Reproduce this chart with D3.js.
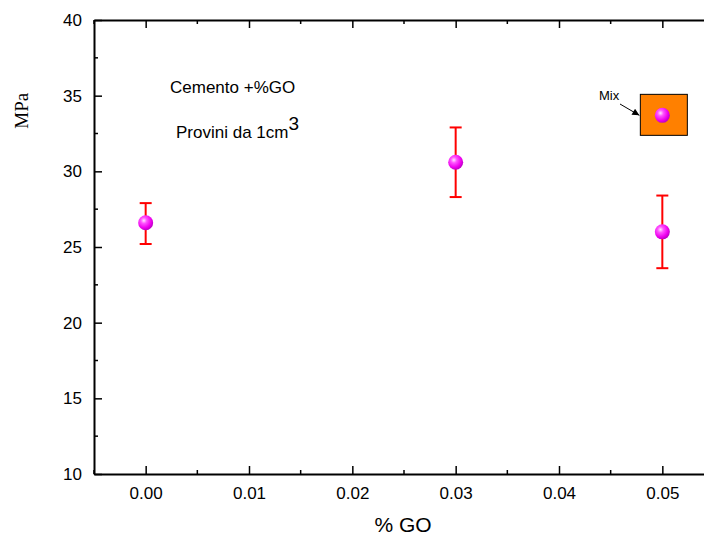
<!DOCTYPE html>
<html>
<head>
<meta charset="utf-8">
<script src="https://cdn.jsdelivr.net/npm/d3@7"></script>
<style>
  body { margin: 0; background: #fff; }
  svg { display: block; }
</style>
</head>
<body>
<div id="chart"></div>
<script>
// data
const goPercent = [0.00, 0.03, 0.05];
const strength = [26.6, 30.6, 26.0];
const errLow = [25.2, 28.3, 23.6];
const errHigh = [27.9, 32.9, 28.4];
const mixPoint = [0.05, 33.7];
const xTicks = [0.00, 0.01, 0.02, 0.03, 0.04, 0.05];
const yTicks = [10, 15, 20, 25, 30, 35, 40];

const width = 704, height = 537;
const margin = { top: 20, right: -10, bottom: 63, left: 94 };

const svg = d3.select('#chart')
   .append('svg')
   .attr('width', width)
   .attr('height', height);

const x = d3.scaleLinear().domain([-0.005, 0.055])
   .range([margin.left, width - margin.right]);
const y = d3.scaleLinear().domain([10, 40])
   .range([height - margin.bottom, margin.top]);

const defs = svg.append('defs');
const grad = defs.append('radialGradient')
   .attr('id', 'ball')
   .attr('cx', '38%').attr('cy', '35%').attr('r', '65%');
grad.append('stop').attr('offset', '0%').attr('stop-color', '#ffe6ff');
grad.append('stop').attr('offset', '30%').attr('stop-color', '#ff55ff');
grad.append('stop').attr('offset', '75%').attr('stop-color', '#ee00ee');
grad.append('stop').attr('offset', '100%').attr('stop-color', '#c000c8');

defs.append('marker')
   .attr('id', 'arrow')
   .attr('viewBox', '0 0 10 10')
   .attr('refX', 10).attr('refY', 5)
   .attr('markerWidth', 9).attr('markerHeight', 7)
   .attr('markerUnits', 'userSpaceOnUse')
   .attr('orient', 'auto')
   .append('path')
   .attr('d', 'M0,0L10,5L0,10z')
   .attr('fill', '#000');

const font = 'Liberation Sans, Arial, sans-serif';
const x0 = margin.left, y0 = height - margin.bottom;
const yTop = margin.top;

// minor ticks
const xMinor = d3.range(-0.005, 0.0551, 0.005).filter(v => !xTicks.some(t => Math.abs(t - v) < 1e-9));
const yMinor = [12.5, 17.5, 22.5, 27.5, 32.5, 37.5];

// bottom axis, ticks inward
const bottomAxis = svg.append('g').attr('transform', `translate(0,${y0})`)
   .call(d3.axisBottom(x).tickValues(xTicks).tickSizeInner(-8).tickSizeOuter(0)
      .tickFormat(d3.format('.2f')).tickPadding(13));
bottomAxis.select('.domain').attr('stroke-width', 2);
bottomAxis.selectAll('.tick line').attr('stroke-width', 1.5);
bottomAxis.selectAll('text').attr('font-family', font).attr('font-size', 17).attr('fill', '#000');

// top axis, no labels
const topAxis = svg.append('g').attr('transform', `translate(0,${yTop})`)
   .call(d3.axisTop(x).tickValues(xTicks).tickSizeInner(-8).tickSizeOuter(0).tickFormat(''));
topAxis.select('.domain').attr('stroke-width', 2);
topAxis.selectAll('.tick line').attr('stroke-width', 1.5);

// left axis
const leftAxis = svg.append('g').attr('transform', `translate(${x0},0)`)
   .call(d3.axisLeft(y).tickValues(yTicks).tickSizeInner(-8).tickSizeOuter(0).tickPadding(12));
leftAxis.select('.domain').attr('stroke-width', 2);
leftAxis.selectAll('.tick line').attr('stroke-width', 1.5);
leftAxis.selectAll('text').attr('font-family', font).attr('font-size', 17).attr('fill', '#000');

const minor = svg.append('g').attr('stroke', '#000').attr('stroke-width', 1.5);
minor.selectAll('.xminb').data(xMinor).join('line').attr('class', 'xminb')
   .attr('x1', d => x(d)).attr('x2', d => x(d))
   .attr('y1', y0).attr('y2', y0 - 4);
minor.selectAll('.xmint').data(xMinor).join('line').attr('class', 'xmint')
   .attr('x1', d => x(d)).attr('x2', d => x(d))
   .attr('y1', yTop).attr('y2', yTop + 4);
minor.selectAll('.ymin').data(yMinor).join('line').attr('class', 'ymin')
   .attr('x1', x0).attr('x2', x0 + 4)
   .attr('y1', d => y(d)).attr('y2', d => y(d));

// axis titles
svg.append('text')
   .attr('x', 403).attr('y', 532)
   .attr('text-anchor', 'middle')
   .attr('font-family', font).attr('font-size', 21)
   .text('% GO');

svg.append('text')
   .attr('transform', `translate(28,${y(34)}) rotate(-90)`)
   .attr('text-anchor', 'middle')
   .attr('font-family', 'Liberation Serif, Times New Roman, serif')
   .attr('font-size', 19)
   .text('MPa');

// annotations
svg.append('text')
   .attr('x', 170).attr('y', 93)
   .attr('font-family', font).attr('font-size', 17)
   .text('Cemento +%GO');

const prov = svg.append('text')
   .attr('x', 176).attr('y', 138)
   .attr('font-family', font).attr('font-size', 17);
prov.append('tspan').text('Provini da 1cm');
prov.append('tspan').attr('dy', -8).attr('font-size', 19).text('3');

// mix legend box
const boxX = x(mixPoint[0]) - 22, boxY = y(mixPoint[1]) - 21;
svg.append('rect')
   .attr('x', boxX).attr('y', boxY)
   .attr('width', 47).attr('height', 41)
   .attr('fill', '#ff8000').attr('stroke', '#000').attr('stroke-width', 1);
svg.append('text')
   .attr('x', 599).attr('y', 100)
   .attr('font-family', font).attr('font-size', 13)
   .text('Mix');
svg.append('line')
   .attr('x1', 620).attr('y1', 104)
   .attr('x2', boxX - 1).attr('y2', boxY + 21)
   .attr('stroke', '#000').attr('stroke-width', 1)
   .attr('marker-end', 'url(#arrow)');

// error bars
const eb = svg.append('g').attr('stroke', '#ff0000').attr('stroke-width', 2);
goPercent.forEach((g, i) => {
   eb.append('line')
      .attr('x1', x(g)).attr('x2', x(g))
      .attr('y1', y(errLow[i])).attr('y2', y(errHigh[i]));
   [errLow[i], errHigh[i]].forEach(v => {
      eb.append('line')
         .attr('x1', x(g) - 6).attr('x2', x(g) + 6)
         .attr('y1', y(v)).attr('y2', y(v));
   });
});

// points
svg.selectAll('.pt').data(goPercent).join('circle')
   .attr('class', 'pt')
   .attr('cx', d => x(d))
   .attr('cy', (d, i) => y(strength[i]))
   .attr('r', 7.5)
   .attr('fill', 'url(#ball)');

svg.append('circle')
   .attr('cx', x(mixPoint[0])).attr('cy', y(mixPoint[1]))
   .attr('r', 7.5)
   .attr('fill', 'url(#ball)');
</script>
</body>
</html>
